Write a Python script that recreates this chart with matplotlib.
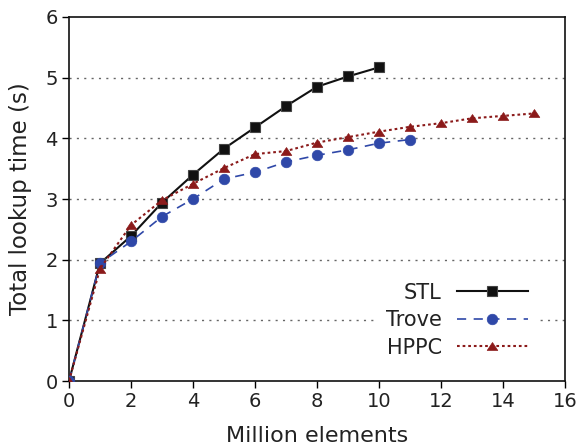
import matplotlib
matplotlib.use("Agg")
import matplotlib.pyplot as plt
from matplotlib.path import Path

# Lookup benchmark: total time vs. number of elements (millions)
stl_x = [0, 1, 2, 3, 4, 5, 6, 7, 8, 9, 10]
stl_y = [0.0, 1.94, 2.39, 2.94, 3.40, 3.83, 4.18, 4.53, 4.85, 5.02, 5.17]

trove_x = [0, 1, 2, 3, 4, 5, 6, 7, 8, 9, 10, 11]
trove_y = [0.0, 1.94, 2.30, 2.71, 3.00, 3.33, 3.44, 3.61, 3.72, 3.81, 3.92, 3.98]

hppc_x = [0, 1, 2, 3, 4, 5, 6, 7, 8, 9, 10, 11, 12, 13, 14, 15]
hppc_y = [0.0, 1.85, 2.57, 2.98, 3.25, 3.51, 3.74, 3.79, 3.93, 4.02, 4.11, 4.19,
          4.25, 4.33, 4.37, 4.41]

x_ticks = [0, 2, 4, 6, 8, 10, 12, 14, 16]
y_ticks = [0, 1, 2, 3, 4, 5, 6]

plt.rcParams["font.family"] = ["DejaVu Sans"]

# slightly flattened upward triangle
flat_tri = Path([(-1.0, -0.75), (1.0, -0.75), (0.0, 0.75), (-1.0, -0.75)],
                [Path.MOVETO, Path.LINETO, Path.LINETO, Path.CLOSEPOLY])

fig = plt.figure(figsize=(5.78, 4.45), dpi=100)
ax = fig.add_axes([0.1194, 0.1438, 0.8581, 0.818])

ax.plot(stl_x, stl_y, color="#111111", linestyle="-", linewidth=1.5,
        marker="s", markersize=7.2, markeredgewidth=0.8, markeredgecolor="#444444",
        label="STL", zorder=3)
ax.plot(trove_x, trove_y, color="#2f48a8", dashes=(5.5, 4.5), linewidth=1.2,
        marker="o", markersize=7.6, markeredgewidth=0.5, markeredgecolor="#2f48a8",
        label="Trove", zorder=3)
ax.plot(hppc_x, hppc_y, color="#8b1a1a", dashes=(1.3, 1.4), linewidth=1.5,
        marker=flat_tri, markersize=7.6, markeredgewidth=0.5, markeredgecolor="#8b1a1a",
        label="HPPC", zorder=3)

ax.set_xlim(0, 16)
ax.set_ylim(0, 6)
ax.set_xticks(x_ticks)
ax.set_yticks(y_ticks)
for yv in y_ticks[1:-1]:
    ax.axhline(yv, color="#666666", linestyle=(0, (1.5, 3.8)), linewidth=1.0, zorder=1)

ax.tick_params(axis="both", labelsize=14, labelcolor="#222222", direction="out",
               length=5, width=1.0, pad=3)
for s in ax.spines.values():
    s.set_linewidth(1.2)
    s.set_color("#111111")

ax.set_xlabel("Million elements", fontsize=16, color="#222222", labelpad=11)
ax.set_ylabel("Total lookup time (s)", fontsize=16.5, color="#222222", labelpad=10)

leg = ax.legend(loc="center right", bbox_to_anchor=(0.9415, 0.1676), frameon=True,
                markerfirst=False, fontsize=15, handlelength=3.4,
                labelspacing=0.36, handletextpad=0.72, borderaxespad=0)
leg.get_frame().set_facecolor("white")
leg.get_frame().set_edgecolor("none")
leg.get_frame().set_alpha(1.0)
leg.set_zorder(2)
for t in leg.get_texts():
    t.set_ha("right")
    t.set_color("#222222")

fig.savefig("out.png", dpi=100)
